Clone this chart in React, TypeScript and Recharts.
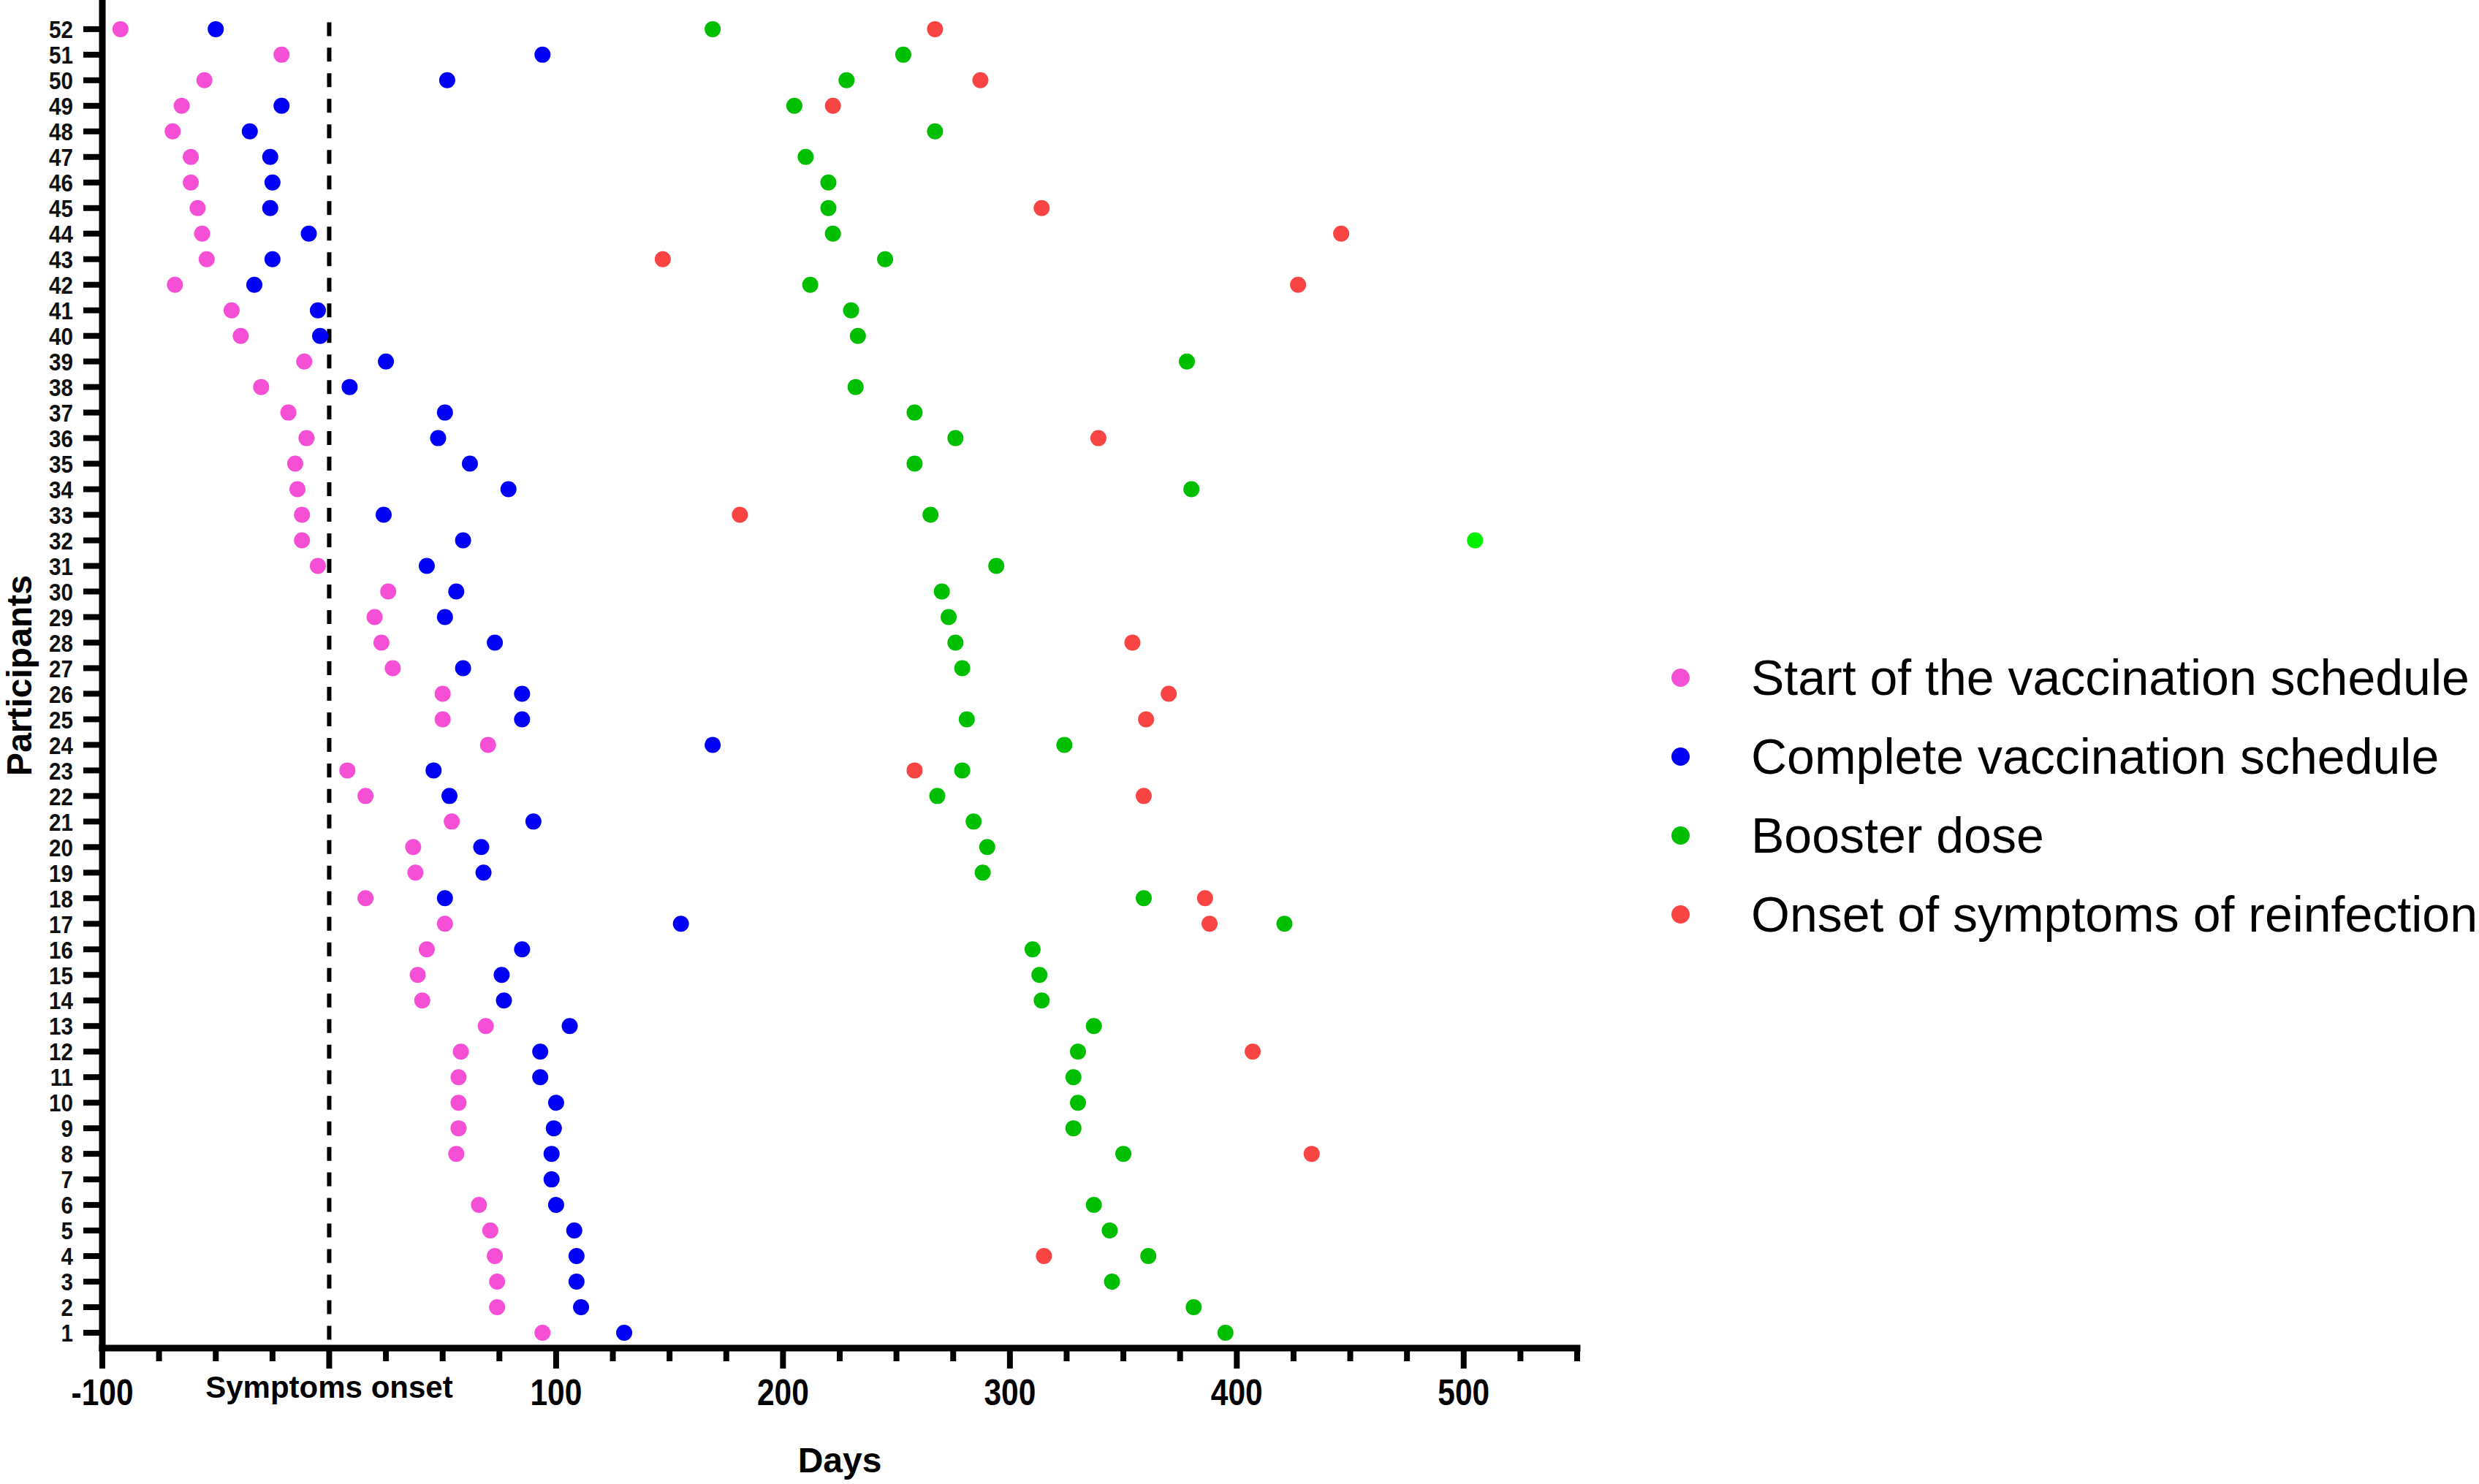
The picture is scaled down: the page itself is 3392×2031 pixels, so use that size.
import React from "react";
import {
  ScatterChart,
  Scatter,
  XAxis,
  YAxis,
  ReferenceLine,
  Legend,
  Cell,
} from "recharts";

// participant numbers (y axis), bottom to top
const PARTICIPANTS = [
  1, 2, 3, 4, 5, 6, 7, 8, 9, 10, 11, 12, 13, 14, 15, 16, 17, 18, 19, 20, 21, 22, 23, 24, 25, 26,
  27, 28, 29, 30, 31, 32, 33, 34, 35, 36, 37, 38, 39, 40, 41, 42, 43, 44, 45, 46, 47, 48, 49, 50, 51, 52,
];

// days relative to symptoms onset, one entry per participant (null = no event)
const START = [
  94, 74, 74, 73, 71, 66, null, 56, 57, 57, 57, 58, 69, 41, 39, 43, 51, 16, 38, 37, 54, 16, 8, 70, 50, 50,
  28, 23, 20, 26, -5, -12, -12, -14, -15, -10, -18, -30, -11, -39, -43, -68, -54, -56, -58, -61, -61, -69, -65, -55, -21, -92,
];
const COMPLETE = [
  130, 111, 109, 109, 108, 100, 98, 98, 99, 100, 93, 93, 106, 77, 76, 85, 155, 51, 68, 67, 90, 53, 46, 169, 85, 85,
  59, 73, 51, 56, 43, 59, 24, 79, 62, 48, 51, 9, 25, -4, -5, -33, -25, -9, -26, -25, -26, -35, -21, 52, 94, -50,
];
const BOOSTER = [
  395, 381, 345, 361, 344, 337, null, 350, 328, 330, 328, 330, 337, 314, 313, 310, 421, 359, 288, 290, 284, 268, 279, 324, 281, null,
  279, 276, 273, 270, 294, 505, 265, 380, 258, 276, 258, 232, 378, 233, 230, 212, 245, 222, 220, 220, 210, 267, 205, 228, 253, 169,
];
const REINFECTION = [
  null, null, null, 315, null, null, null, 433, null, null, null, 407, null, null, null, null, 388, 386, null, null, null, 359, 258, null, 360, 370,
  null, 354, null, null, null, null, 181, null, null, 339, null, null, null, null, null, 427, 147, 446, 314, null, null, null, 222, 287, null, 267,
];

const X_TICKS = [
  -100, -75, -50, -25, 0, 25, 50, 75, 100, 125, 150, 175, 200, 225, 250, 275, 300, 325, 350, 375, 400, 425, 450, 475, 500, 525, 550,
];

const SERIES = [
  { name: "Start of the vaccination schedule", values: START, color: "#f54fd6" },
  { name: "Complete vaccination schedule", values: COMPLETE, color: "#0000f5" },
  { name: "Booster dose", values: BOOSTER, color: "#00bf00" },
  { name: "Onset of symptoms of reinfection", values: REINFECTION, color: "#f94444" },
];
const BRIGHT_BOOSTER = 32; // this participant's booster dot is lighter green

const W = 3392;
const H = 2031;
const Y_DOMAIN = [0.4, 53.14];
const X_AXIS_H = 186;
const Y_AXIS_W = 140;
const PLOT_H = H - X_AXIS_H;
const ROW = PLOT_H / (Y_DOMAIN[1] - Y_DOMAIN[0]);
const DASH = 19;
const DOT_R = 11;

const ARIAL = "Arial, 'Liberation Sans', Helvetica, sans-serif";

function toPoints(values: (number | null)[]) {
  return values
    .map((v, i) => (v == null ? null : { x: v, y: PARTICIPANTS[i] }))
    .filter(Boolean) as { x: number; y: number }[];
}

function Dot(props: any) {
  if (props.cx == null) return null;
  return <circle cx={props.cx} cy={props.cy} r={DOT_R} fill={props.fill} />;
}

// the numbers in the original are set in a condensed face
function XTick({ x, y, payload }: any) {
  const v = payload.value;
  const major = v % 100 === 0;
  return (
    <g>
      <line x1={x} x2={x} y1={y} y2={y + (major ? 28 : 18)} stroke="#000" strokeWidth={8} />
      {major && v === 0 && (
        <text x={x} y={y + 68} textAnchor="middle" fontSize={42} fontWeight={700} fontFamily={ARIAL} fill="#000">
          Symptoms onset
        </text>
      )}
      {major && v !== 0 && (
        <text
          transform={`translate(${x}, ${y + 78}) scale(0.85, 1)`}
          textAnchor="middle"
          fontSize={50}
          fontWeight={700}
          fontFamily={ARIAL}
          fill="#000"
        >
          {v}
        </text>
      )}
    </g>
  );
}

function YTick({ x, y, payload }: any) {
  return (
    <text
      transform={`translate(${x}, ${y}) scale(0.87, 1)`}
      dy="0.36em"
      textAnchor="end"
      fontSize={34}
      fontWeight={700}
      fontFamily={ARIAL}
      fill="#111"
    >
      {payload.value}
    </text>
  );
}

function LegendContent({ payload }: any) {
  const items = [...(payload || [])].sort(
    (a, b) => SERIES.findIndex((s) => s.name === a.value) - SERIES.findIndex((s) => s.name === b.value)
  );
  return (
    <div>
      {items.map((e: any) => (
        <div key={e.value} style={{ height: 108, display: "flex", alignItems: "center" }}>
          <span
            style={{ width: 25, height: 25, borderRadius: "50%", background: e.color, marginRight: 84, flexShrink: 0 }}
          />
          <span style={{ fontSize: 68, fontFamily: ARIAL, color: "#000", whiteSpace: "nowrap" }}>{e.value}</span>
        </div>
      ))}
    </div>
  );
}

export default function App() {
  const gap = (ROW - DASH) / 2;
  return (
    <div style={{ position: "absolute", left: 0, top: 0, background: "#fff" }}>
      <ScatterChart width={W} height={H} margin={{ top: 0, right: W - 2158, bottom: 0, left: 0 }}>
        <XAxis
          type="number"
          dataKey="x"
          domain={[-100, 550]}
          ticks={X_TICKS}
          interval={0}
          allowDataOverflow
          height={X_AXIS_H}
          tickSize={0}
          tickMargin={0}
          tickLine={false}
          tick={<XTick />}
          axisLine={{ stroke: "#000", strokeWidth: 9, strokeLinecap: "square" }}
          label={{
            content: ({ viewBox }: any) => (
              <text
                x={viewBox.x + viewBox.width / 2}
                y={viewBox.y + 170}
                textAnchor="middle"
                fontSize={48}
                fontWeight={700}
                fontFamily={ARIAL}
                fill="#000"
              >
                Days
              </text>
            ),
          }}
        />
        <YAxis
          type="number"
          dataKey="y"
          domain={Y_DOMAIN}
          ticks={PARTICIPANTS}
          interval={0}
          allowDataOverflow
          width={Y_AXIS_W}
          tickSize={26}
          tickMargin={14}
          tickLine={{ stroke: "#000", strokeWidth: 8 }}
          tick={<YTick />}
          axisLine={{ stroke: "#000", strokeWidth: 9, strokeLinecap: "square" }}
          label={{
            content: ({ viewBox }: any) => {
              const cy = viewBox.y + viewBox.height / 2 + 2;
              return (
                <text
                  x={43}
                  y={cy}
                  transform={`rotate(-90, 43, ${cy})`}
                  textAnchor="middle"
                  fontSize={48}
                  fontWeight={700}
                  fontFamily={ARIAL}
                  fill="#000"
                >
                  Participants
                </text>
              );
            },
          }}
        />
        <ReferenceLine
          segment={[
            { x: 0, y: 0.5 },
            { x: 0, y: 52.5 },
          ]}
          stroke="#000"
          strokeWidth={6}
          strokeDasharray={`0 ${gap} ${DASH} ${gap}`}
        />
        {SERIES.map((s) => {
          const pts = toPoints(s.values);
          return (
            <Scatter
              key={s.name}
              name={s.name}
              data={pts}
              fill={s.color}
              shape={<Dot />}
              isAnimationActive={false}
            >
              {s.values === BOOSTER &&
                pts.map((p) => <Cell key={p.y} fill={p.y === BRIGHT_BOOSTER ? "#00f000" : s.color} />)}
            </Scatter>
          );
        })}
        <Legend
          layout="horizontal"
          align="center"
          verticalAlign="middle"
          content={<LegendContent />}
          wrapperStyle={{ left: 2287, top: 873, width: 1105 }}
        />
      </ScatterChart>
    </div>
  );
}
